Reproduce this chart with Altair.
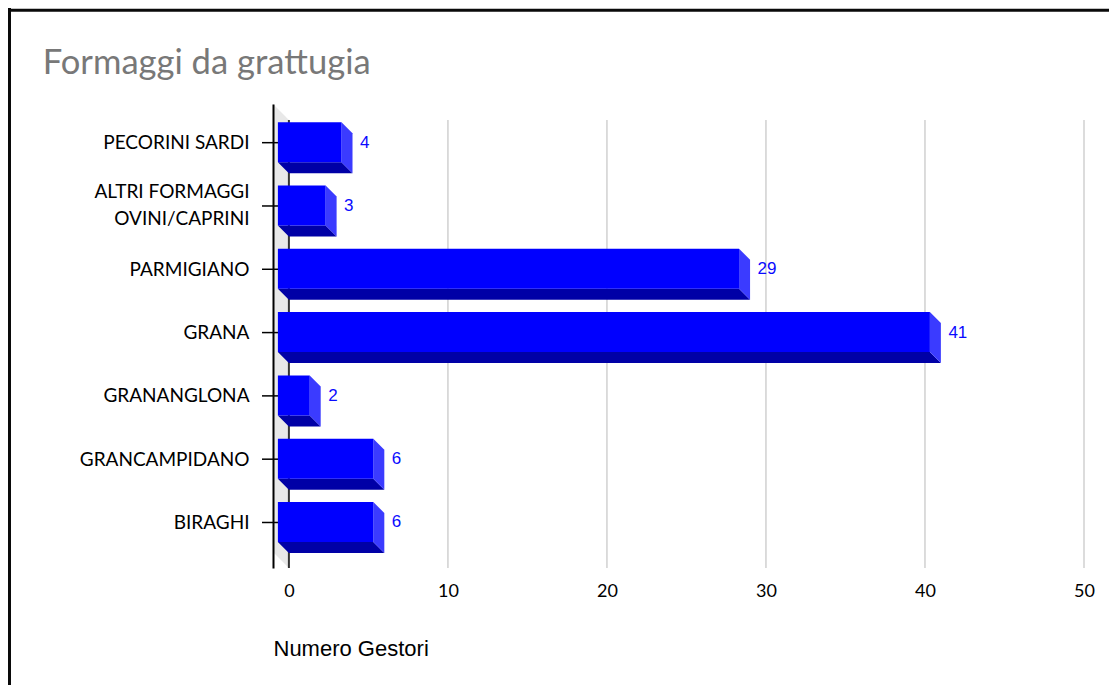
import altair as alt
import pandas as pd

# ---- data ----
title_text = "Formaggi da grattugia"
x_title = "Numero Gestori"
categories = ["PECORINI SARDI", "ALTRI FORMAGGI|OVINI/CAPRINI", "PARMIGIANO", "GRANA",
              "GRANANGLONA", "GRANCAMPIDANO", "BIRAGHI"]
values = [4, 3, 29, 41, 2, 6, 6]
x_ticks = [0, 10, 20, 30, 40, 50]

# ---- geometry (style) ----
W, H = 811, 464
PAD_L, PAD_T = 265, 96
TOTAL_W, TOTAL_H = 1101, 677
X_DOM = [-1, 50]
PXX = W / (X_DOM[1] - X_DOM[0])          # px per x unit
Y_TOP, Y_BOT = -0.611, 6.719
PXY = H / (Y_BOT - Y_TOP)                # px per row
DX = 11 / PXX                            # bar depth (x units)
DY = 11 / PXY                            # bar depth (row units)
A = 20.5 / PXY
B = 19.5 / PXY
WALL_DY = 16 / PXY

idx = list(range(len(categories)))

df_front = pd.DataFrame({
    "i": idx, "v": values,
    "x0": [-DX] * len(values), "x1": [v - DX for v in values],
    "yt": [i - A for i in idx], "yb": [i + B for i in idx],
})
bottom_rows, side_rows = [], []
for i, v in zip(idx, values):
    bottom_rows.append({"i": i, "y": i + B, "x": -DX, "x2": v - DX})
    bottom_rows.append({"i": i, "y": i + B + DY, "x": 0.0, "x2": float(v)})
    side_rows.append({"i": i, "x": v - DX, "y": i - A, "y2": i + B})
    side_rows.append({"i": i, "x": float(v), "y": i - A + DY, "y2": i + B + DY})
df_bottom = pd.DataFrame(bottom_rows)
df_side = pd.DataFrame(side_rows)

df_wall = pd.DataFrame({"x": [-1.0, 0.0],
                        "y": [Y_TOP, Y_TOP + WALL_DY],
                        "y2": [Y_BOT - WALL_DY, Y_BOT]})
df_grid = pd.DataFrame({"x": x_ticks[1:], "y": [Y_TOP + WALL_DY] * (len(x_ticks) - 1),
                        "y2": [Y_BOT] * (len(x_ticks) - 1)})
df_zero = pd.DataFrame({"x": [0], "y": [Y_TOP + WALL_DY], "y2": [Y_BOT]})
df_ticks = pd.DataFrame({"i": idx, "x": [-1] * len(idx)})
df_one = pd.DataFrame({"t": [title_text]})

xs = alt.Scale(domain=X_DOM, nice=False, zero=False)
ys = alt.Scale(domain=[Y_TOP, Y_BOT], nice=False, zero=False, reverse=True)

lab_arr = "[" + ",".join("'" + c + "'" for c in categories) + "]"

x_axis = alt.Axis(values=x_ticks, grid=False, ticks=False, domain=False,
                  labelFont="Lato", labelFontSize=18, labelColor="#000000",
                  labelPadding=14, labelFlush=False,
                  title=x_title, titleFont="Liberation Sans", titleFontSize=22,
                  titleFontWeight="normal", titleColor="#000000",
                  titleX=0, titleY=87, titleAlign="left", titleBaseline="alphabetic",
                  titleAnchor="start")
y_axis = alt.Axis(values=idx, grid=False, ticks=False, domain=True,
                  domainColor="#000000", domainWidth=2, zindex=1,
                  labelExpr="split(" + lab_arr + "[datum.value], '|')",
                  labelFont="Lato", labelFontSize=19, labelColor="#000000",
                  labelPadding=24, labelFlush=False, labelOverlap=False,
                  labelLineHeight=26.5,
                  labelOffset={"condition": {"test": "indexof(" + lab_arr + "[datum.value], '|') >= 0",
                                             "value": -14},
                               "value": 0},
                  title=None)

FRAME_COLOR = "#0a0a0a"
frame_top = alt.Chart(df_one).mark_rule(stroke=FRAME_COLOR, strokeWidth=3).encode(
    x=alt.value(-PAD_L), x2=alt.value(TOTAL_W - PAD_L),
    y=alt.value(10.3 - 8 - PAD_T))
frame_left = alt.Chart(df_one).mark_rule(stroke=FRAME_COLOR, strokeWidth=3).encode(
    x=alt.value(9.5 - 8 - PAD_L),
    y=alt.value(-PAD_T), y2=alt.value(TOTAL_H - PAD_T))

title = alt.Chart(df_one).mark_text(align="left", baseline="alphabetic", font="Lato",
                                    fontSize=34.6, color="#787878").encode(
    x=alt.value(43 - 273.3), y=alt.value(74 - 104), text="t:N")

wall = alt.Chart(df_wall).mark_area(orient="vertical", color="#e8e8e8").encode(
    x=alt.X("x:Q", scale=xs, axis=x_axis),
    y=alt.Y("y:Q", scale=ys, axis=y_axis, stack=False),
    y2="y2:Q")

grid = alt.Chart(df_grid).mark_rule(color="#d0d0d0", strokeWidth=1.5).encode(
    x=alt.X("x:Q", scale=xs), y=alt.Y("y:Q", scale=ys), y2="y2:Q")
zero = alt.Chart(df_zero).mark_rule(color="#333333", strokeWidth=2).encode(
    x=alt.X("x:Q", scale=xs), y=alt.Y("y:Q", scale=ys), y2="y2:Q")

ticks = alt.Chart(df_ticks).mark_rule(color="#000000", strokeWidth=1.5,
                                      xOffset=-11, x2Offset=10).encode(
    x=alt.X("x:Q", scale=xs), x2="x:Q", y=alt.Y("i:Q", scale=ys))

bottom = alt.Chart(df_bottom).mark_area(orient="horizontal", color="#0000a6").encode(
    y=alt.Y("y:Q", scale=ys),
    x=alt.X("x:Q", scale=xs, stack=False), x2="x2:Q",
    detail="i:N")
side = alt.Chart(df_side).mark_area(orient="vertical", color="#3b3bff").encode(
    x=alt.X("x:Q", scale=xs),
    y=alt.Y("y:Q", scale=ys, stack=False), y2="y2:Q",
    detail="i:N")
front = alt.Chart(df_front).mark_rect(color="#0000ff").encode(
    x=alt.X("x0:Q", scale=xs), x2="x1:Q",
    y=alt.Y("yt:Q", scale=ys), y2="yb:Q")
labels = alt.Chart(df_front).mark_text(align="left", baseline="middle", dx=7.5, dy=0,
                                       font="Liberation Sans", fontSize=17,
                                       color="#0a0aff").encode(
    x=alt.X("v:Q", scale=xs), y=alt.Y("i:Q", scale=ys), text="v:Q")

chart = alt.layer(frame_top, frame_left, title, wall, grid, zero, ticks,
                  bottom, side, front, labels).properties(
    width=W, height=H,
    autosize=alt.AutoSizeParams(type="none"),
    padding={"left": PAD_L, "top": PAD_T, "right": TOTAL_W - PAD_L - W,
             "bottom": TOTAL_H - PAD_T - H},
    background="#ffffff",
).configure_view(strokeWidth=0)

chart.save("out.html", embed_options={"renderer": "svg", "actions": False})
